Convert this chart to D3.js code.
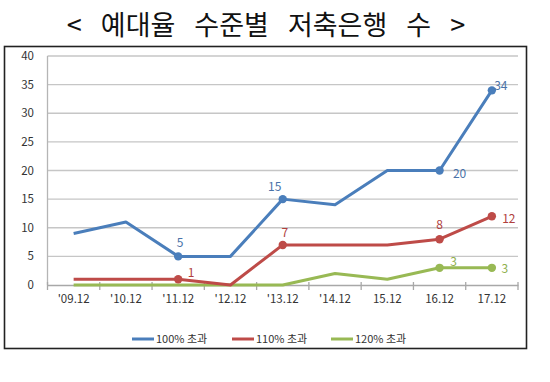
<!DOCTYPE html>
<html><head><meta charset="utf-8">
<script src="https://cdn.jsdelivr.net/npm/d3@7"></script>
<style>body{margin:0;background:#fff;}svg{display:block;}</style>
</head><body>
<svg id="c" width="550" height="382"></svg>
<script>
const title = "< 예대율 수준별 저축은행 수 >";
const categories = ["'09.12","'10.12","'11.12","'12.12","'13.12","'14.12","15.12","16.12","17.12"];
const seriesNames = ["100% 초과","110% 초과","120% 초과"];
const s100 = [9, 11, 5, 5, 15, 14, 20, 20, 34];
const s110 = [1, 1, 1, 0, 7, 7, 7, 8, 12];
const s120 = [0, 0, 0, 0, 0, 2, 1, 3, 3];
const yTicks = [0,5,10,15,20,25,30,35,40];
// indices of points with markers + labels
const labeled100 = [2,4,7,8];
const labeled110 = [2,4,7,8];
const labeled120 = [7,8];

const colors = ["#4a7ebb","#be4b48","#98b954"];
const labelColors = ["#4a72a8","#b0403d","#8fb04c"];
// label offsets [dx, dy] relative to point
const off100 = [[2,-14],[-8,-12],[20,3],[9,-5]];
const off110 = [[13,-6],[2,-12],[0,-14],[17,2]];
const off120 = [[14,-6],[13,1]];

const svg = d3.select("#c");
const FONT = "'Noto Sans CJK KR','Noto Sans',sans-serif";

svg.append("text").attr("x",266).attr("y",35).attr("text-anchor","middle")
  .attr("font-family",FONT).attr("font-size",27).attr("fill","#111")
  .attr("word-spacing","13px").text(title);

svg.append("rect").attr("x",4.5).attr("y",46.5).attr("width",522).attr("height",302)
  .attr("fill","none").attr("stroke","#222").attr("stroke-width",1.6);

const x = d3.scaleBand().domain(categories).range([47.5,518]).padding(0);
const y = d3.scaleLinear().domain([0,40]).range([285,56]);

const g = svg.append("g");
g.selectAll("line.grid").data(yTicks.filter(d=>d>0)).join("line")
  .attr("x1",47.5).attr("x2",518).attr("y1",d=>y(d)).attr("y2",d=>y(d))
  .attr("stroke","#c6c6c6").attr("stroke-width",1.3);
g.append("line").attr("x1",47.5).attr("x2",47.5).attr("y1",56).attr("y2",285)
  .attr("stroke","#b5b5b5").attr("stroke-width",1.3);
g.selectAll("text.yl").data(yTicks).join("text")
  .attr("x",34).attr("y",d=>y(d)).attr("dy","0.35em").attr("text-anchor","end")
  .attr("font-family",FONT).attr("font-size",11.5).attr("fill","#333").text(d=>d);

const xAxis = d3.axisBottom(x).tickSize(0).tickFormat(d=>d);
const xa = g.append("g").attr("transform","translate(0,285)").call(xAxis);
xa.select(".domain").attr("stroke","#a8a8a8").attr("stroke-width",1.3);
xa.selectAll("text").attr("font-family",FONT).attr("font-size",11.5).attr("fill","#333").attr("dy","1.3em");
const bounds = categories.map(c=>x(c)+x.bandwidth());
bounds.unshift(x(categories[0]));
g.selectAll("line.tk").data(bounds).join("line")
  .attr("x1",d=>d).attr("x2",d=>d).attr("y1",282).attr("y2",290)
  .attr("stroke","#a8a8a8").attr("stroke-width",1.3);

const cx = c => x(c) + x.bandwidth()/2;
const line = d3.line().x((d,i)=>cx(categories[i])).y(d=>y(d));

const all = [s120, s110, s100];
const lab = [labeled120, labeled110, labeled100];
const offs = [off120, off110, off100];
const order = [2,1,0];
all.forEach((s,k)=>{
  const ci = order[k];
  g.append("path").datum(s).attr("d",line).attr("fill","none")
    .attr("stroke",colors[ci]).attr("stroke-width",3).attr("stroke-linejoin","round");
  g.selectAll(null).data(lab[k]).join("circle")
    .attr("cx",i=>cx(categories[i])).attr("cy",i=>y(s[i])).attr("r",4.2).attr("fill",colors[ci]);
  g.selectAll(null).data(lab[k]).join("text")
    .attr("x",(i,j)=>cx(categories[i])+offs[k][j][0]).attr("y",(i,j)=>y(s[i])+offs[k][j][1])
    .attr("dy","0.35em").attr("text-anchor","middle")
    .attr("font-family",FONT).attr("font-size",12).attr("fill",labelColors[ci]).text(i=>s[i]);
});

const legX = [132,232,331];
const lg = svg.append("g");
seriesNames.forEach((n,i)=>{
  lg.append("line").attr("x1",legX[i]).attr("x2",legX[i]+22).attr("y1",339).attr("y2",339)
    .attr("stroke",colors[i]).attr("stroke-width",3);
  lg.append("text").attr("x",legX[i]+24).attr("y",339).attr("dy","0.35em")
    .attr("font-family",FONT).attr("font-size",11).attr("fill","#333").text(n);
});
</script>
</body></html>
